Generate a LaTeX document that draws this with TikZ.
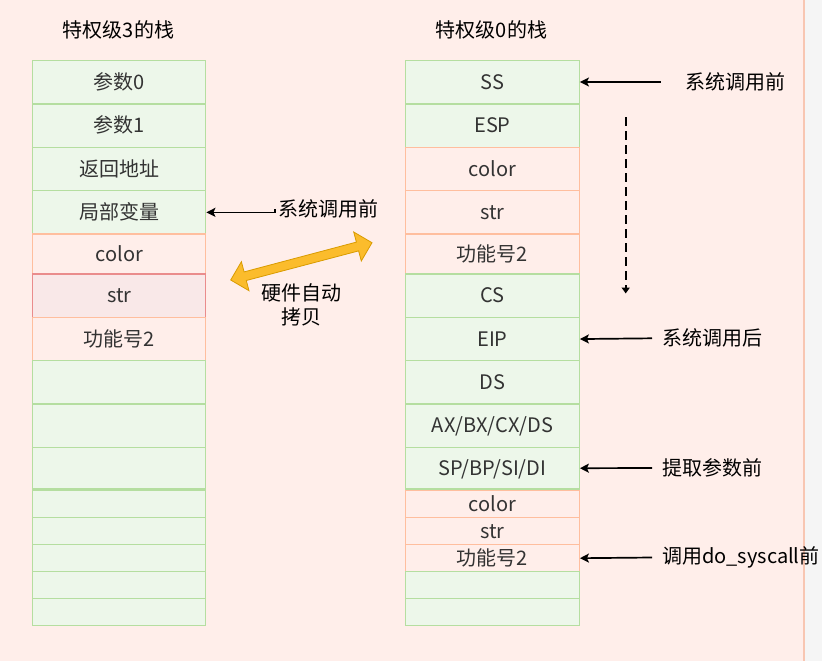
\documentclass[tikz,border=0pt]{standalone}
\usepackage{fontspec}
\setmainfont{Noto Sans CJK SC}
\usepackage{xcolor}
\usetikzlibrary{arrows.meta}

\definecolor{bgpink}{HTML}{FFEEEA}
\definecolor{bggray}{HTML}{F5F5F5}
\definecolor{framesalmon}{HTML}{F8C6B2}
\definecolor{cellgreen}{HTML}{B5DEA0}
\definecolor{cellgreenfill}{HTML}{EDF7EA}
\definecolor{cellorange}{HTML}{FFBE9E}
\definecolor{cellred}{HTML}{EA8C8C}
\definecolor{cellredfill}{HTML}{F9E8E8}
\definecolor{txtgray}{HTML}{333333}
\definecolor{copyyellow}{HTML}{FBBC2C}
\definecolor{copyedge}{HTML}{D99B00}

\tikzset{
  cell/.style={draw, line width=1.4pt, inner sep=0pt, anchor=north west,
    text height=17pt, text depth=3pt, text=txtgray,
    font=\fontsize{20}{24}\selectfont},
  lcell/.style={cell, minimum width=173pt},
  rcell/.style={cell, minimum width=173.5pt},
  greencell/.style={draw=cellgreen, fill=cellgreenfill},
  orangecell/.style={draw=cellorange, fill=bgpink},
  redcell/.style={draw=cellred, fill=cellredfill},
  note/.style={anchor=west, inner ysep=0pt, inner xsep=10pt,
    font=\fontsize{20}{24}\selectfont},
  pointer/.style={line width=1.7pt, -{Stealth[length=9pt,width=9pt,inset=2pt]}}
}

\begin{document}
\begin{tikzpicture}[x=1pt, y=-1pt]

  % -- canvas ---------------------------------------------------------------
  \useasboundingbox (0,0) rectangle (822,661);
  \fill[bgpink] (0,0) rectangle (804,661);
  \fill[bggray] (804,0) rectangle (822,661);
  \draw[framesalmon, line width=1.5pt] (804,0) -- (804,661);

  % -- stack of ring 3 ------------------------------------------------------
  \node[font=\fontsize{20}{24}\selectfont] (ttl3) at (118.5,30) {特权级3的栈};
  \node[lcell, greencell, minimum height=43.3pt] (l1) at (32,60) {参数0};
  \node[lcell, greencell, minimum height=43.3pt] (l2) at (32,103.3) {参数1};
  \node[lcell, greencell, minimum height=43.3pt] (l3) at (32,146.7) {返回地址};
  \node[lcell, greencell, minimum height=43.3pt] (l4) at (32,190) {局部变量};
  \node[lcell, orangecell, minimum height=40pt] (l5) at (32,233.3) {color};
  \node[lcell, redcell, minimum height=43.3pt] (l6) at (32,273.3) {str};
  \node[lcell, orangecell, minimum height=43.3pt] (l7) at (32,316.7) {功能号2};
  \node[lcell, greencell, minimum height=43.3pt] (l8) at (32,360) {};
  \node[lcell, greencell, minimum height=43.3pt] (l9) at (32,403.3) {};
  \node[lcell, greencell, minimum height=41.6pt] (l10) at (32,446.7) {};
  \foreach \row/\top in {11/490,12/517,13/544,14/571,15/598}
    \node[lcell, greencell, minimum height=27pt] (l\row) at (32,\top) {};

  % -- stack of ring 0 ------------------------------------------------------
  \node[font=\fontsize{20}{24}\selectfont] (ttl0) at (491.5,30) {特权级0的栈};
  \node[rcell, greencell, minimum height=43.3pt] (r1) at (405,60) {SS};
  \node[rcell, greencell, minimum height=43.3pt] (r2) at (405,103.3) {ESP};
  \node[rcell, orangecell, minimum height=43.3pt] (r3) at (405,146.7) {color};
  \node[rcell, orangecell, minimum height=43.3pt] (r4) at (405,190) {str};
  \node[rcell, orangecell, minimum height=40pt] (r5) at (405,233.3) {功能号2};
  \node[rcell, greencell, minimum height=43.3pt] (r6) at (405,273.3) {CS};
  \node[rcell, greencell, minimum height=43.3pt] (r7) at (405,316.7) {EIP};
  \node[rcell, greencell, minimum height=43.3pt] (r8) at (405,360) {DS};
  \node[rcell, greencell, minimum height=43.3pt] (r9) at (405,403.3) {AX/BX/CX/DS};
  \node[rcell, greencell, minimum height=41.6pt] (r10) at (405,446.7) {SP/BP/SI/DI};
  \node[rcell, orangecell, minimum height=27pt] (r11) at (405,490) {color};
  \node[rcell, orangecell, minimum height=27pt] (r12) at (405,517) {str};
  \node[rcell, orangecell, minimum height=27pt] (r13) at (405,544) {功能号2};
  \node[rcell, greencell, minimum height=27pt] (r14) at (405,571) {};
  \node[rcell, greencell, minimum height=27pt] (r15) at (405,598) {};

  % -- hardware copy arrow --------------------------------------------------
  \filldraw[fill=copyyellow, draw=copyedge, line width=0.8pt, line join=miter]
    (230.7,280) -- (241.4,261.7) -- (244.1,271.9) -- (356.4,242.1)
    -- (353.7,232.0) -- (372,242.7) -- (361.3,261.0) -- (358.6,250.9)
    -- (246.3,280.5) -- (249.0,290.7) -- cycle;
  \node[align=center, font=\fontsize{20}{24}\selectfont] (copy) at (301.7,304.5)
    {硬件自动\\拷贝};

  % -- pointers -------------------------------------------------------------
  \node[note, inner xsep=3pt] (nL4) at (275,209.3) {系统调用前};
  \draw[pointer] (nL4.west) |- (l4.east);

  \node[note, inner xsep=25pt] (nSS) at (660.7,82) {系统调用前};
  \draw[pointer] (nSS.west) -- (nSS.west -| r1.east);

  \node[note] (nEIP) at (652,338.3) {系统调用后};
  \draw[pointer] (nEIP.west) -- (r7.east);

  \node[note] (nSP) at (652,468) {提取参数前};
  \draw[pointer] (nSP.west) -- (r10.east);

  \node[note] (nSys) at (652,557.5) {调用do\_syscall前};
  \draw[pointer] (nSys.west) -- (r13.east);

  % -- stack grows down -----------------------------------------------------
  \coordinate (growtop) at (625.7,117);
  \coordinate (growend) at (625.7,293.5);
  \draw[line width=1.6pt, dash pattern=on 9pt off 5pt,
    -{Triangle[length=6pt,width=8pt]}] (growtop) -- (growend);

\end{tikzpicture}
\end{document}
